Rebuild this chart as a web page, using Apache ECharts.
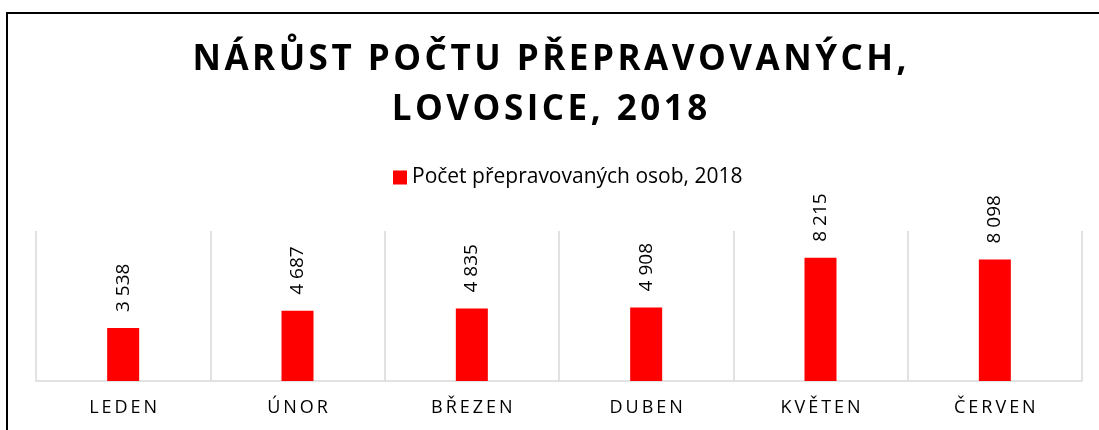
<!DOCTYPE html>
<html>
<head>
<meta charset="utf-8">
<script src="https://cdn.jsdelivr.net/npm/echarts@6/dist/echarts.min.js"></script>
<style>
  html, body { margin: 0; padding: 0; background: #fff; }
  #chart { width: 1099px; height: 430px; }
</style>
</head>
<body>
<div id="chart"></div>
<script>
// data
var months = ['LEDEN', 'ÚNOR', 'BŘEZEN', 'DUBEN', 'KVĚTEN', 'ČERVEN'];
var passengers = [3538, 4687, 4835, 4908, 8215, 8098];
var seriesName = 'Počet přepravovaných osob, 2018';
var titleLines = ['NÁRŮST POČTU PŘEPRAVOVANÝCH,', 'LOVOSICE, 2018'];

// no letterSpacing in canvas text, so pad letters with narrow spaces
function spaced(s, gap) {
    return s.split('').join(gap);
}
function thousands(v) {
    return String(v).replace(/\B(?=(\d{3})+(?!\d))/g, ' ');
}

var myChart = echarts.init(document.getElementById('chart'));
myChart.setOption({
    animation: false,
    textStyle: { fontFamily: 'Open Sans' },
    title: {
        text: titleLines.map(function (l) { return spaced(l, '\u200A'); }).join('\n'),
        left: 'center',
        top: 30,
        textStyle: {
            fontFamily: 'Open Sans',
            fontWeight: 'bold',
            fontSize: 35,
            lineHeight: 50,
            color: '#000'
        }
    },
    legend: {
        top: 162,
        left: 388,
        itemWidth: 14,
        itemHeight: 14,
        itemGap: 6,
        icon: 'rect',
        textStyle: { fontSize: 21, color: '#000', fontFamily: 'Open Sans' }
    },
    graphic: [{
        type: 'rect',
        shape: { x: 7, y: 13, width: 1300, height: 600 },
        style: { fill: 'none', stroke: '#000', lineWidth: 2 },
        silent: true
    }],
    grid: {
        left: 36,
        right: 17,
        top: 231,
        bottom: 49
    },
    xAxis: {
        type: 'category',
        data: months,
        axisLine: { lineStyle: { color: '#d9d9d9', width: 1.5 } },
        axisTick: { show: false },
        splitLine: { show: true, lineStyle: { color: '#d9d9d9', width: 1.5 } },
        axisLabel: {
            margin: 18,
            fontSize: 18,
            color: '#000',
            formatter: function (v) { return spaced(v, '\u2009'); }
        }
    },
    yAxis: {
        type: 'value',
        min: 0,
        max: 10000,
        show: false,
        splitLine: { show: false }
    },
    series: [{
        name: seriesName,
        type: 'bar',
        data: passengers,
        barWidth: 32,
        itemStyle: { color: '#ff0000' },
        label: {
            show: true,
            position: 'top',
            rotate: 90,
            align: 'left',
            verticalAlign: 'middle',
            distance: 16,
            fontSize: 19,
            color: '#000',
            formatter: function (p) { return thousands(p.value); }
        }
    }]
});
</script>
</body>
</html>
